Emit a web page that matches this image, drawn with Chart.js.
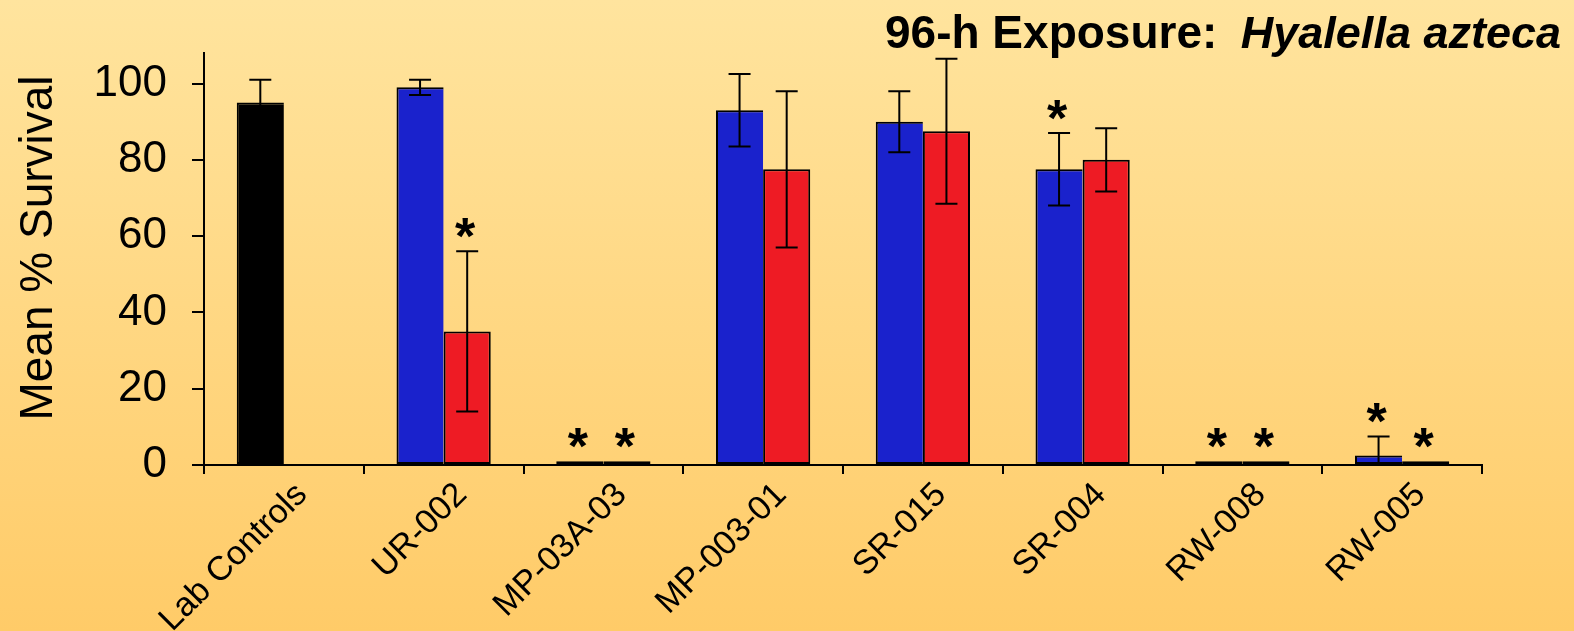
<!DOCTYPE html>
<html>
<head>
<meta charset="utf-8">
<script src="https://cdn.jsdelivr.net/npm/chart.js@4.4.1/dist/chart.umd.min.js"></script>
<style>
  html, body { margin: 0; padding: 0; width: 1574px; height: 631px; overflow: hidden; }
  body { background: linear-gradient(to bottom, #FFE49E 0%, #FFCB68 100%); }
  canvas { display: block; }
</style>
</head>
<body>
<canvas id="chart" width="1574" height="631"></canvas>
<script>
// Stations and mean % survival (first and second sample sets), with error half-widths
const stations = ['Lab Controls', 'UR-002', 'MP-03A-03', 'MP-003-01', 'SR-015', 'SR-004', 'RW-008', 'RW-005'];
const survivalA = [95, 99, 1, 93, 90, 77.5, 1, 2.5];
const errorA    = [6, 2, 0, 9.5, 8, 9.5, 0, 5];
const survivalB = [null, 35, 1, 77.5, 87.5, 80, 1, 1];
const errorB    = [null, 21, 0, 20.5, 19, 8.3, 0, 0];
// Stations significantly different from the controls (marked with *)
const significantA = [false, false, true, false, false, true, true, true];
const significantB = [false, true, true, false, false, false, true, true];
const yTickValues = [0, 20, 40, 60, 80, 100];

const BLUE = '#1A22CC';
const RED = '#EE1B24';
const FONT = "'Liberation Sans', Arial, Helvetica, sans-serif";

Chart.defaults.font.family = FONT;
Chart.defaults.color = '#000';

const CANVAS_H = 631;
const PLOT_LEFT = 204;
const PLOT_BOTTOM = 465;

// Error bars and significance asterisks, positioned through the y scale
const errorBarPlugin = {
  id: 'errorBars',
  afterDatasetsDraw(chart) {
    const { ctx } = chart;
    const y = chart.scales.y;
    const sets = [
      { values: survivalA, errors: errorA, sig: significantA },
      { values: survivalB, errors: errorB, sig: significantB }
    ];
    ctx.save();
    ctx.strokeStyle = '#000';
    ctx.lineWidth = 2;
    sets.forEach((s, d) => {
      const meta = chart.getDatasetMeta(d);
      meta.data.forEach((bar, i) => {
        const v = s.values[i];
        if (v == null) return;
        const e = s.errors[i] || 0;
        const x = bar.x;
        if (e > 0) {
          const lowVal = Math.max(0, v - e);
          const yHi = y.getPixelForValue(v + e);
          const yLo = y.getPixelForValue(lowVal);
          ctx.beginPath();
          ctx.moveTo(x, yHi); ctx.lineTo(x, yLo);
          ctx.moveTo(x - 11, yHi); ctx.lineTo(x + 11, yHi);
          if (v - e > 0) { ctx.moveTo(x - 11, yLo); ctx.lineTo(x + 11, yLo); }
          ctx.stroke();
        }
        if (s.sig[i]) {
          const top = y.getPixelForValue(v + e);
          ctx.font = 'bold 52px ' + FONT;
          ctx.textAlign = 'center';
          ctx.textBaseline = 'alphabetic';
          const m = ctx.measureText('*');
          const mid = (m.actualBoundingBoxAscent - m.actualBoundingBoxDescent) / 2;
          ctx.fillStyle = '#000';
          ctx.fillText('*', x - 2, top - 23 + mid);
        }
      });
    });
    ctx.restore();
  }
};

// Heading with the species name in italics, and the vertical axis caption
const textPlugin = {
  id: 'captions',
  afterDraw(chart) {
    const { ctx } = chart;
    ctx.save();
    ctx.fillStyle = '#000';
    ctx.textBaseline = 'alphabetic';
    ctx.textAlign = 'left';
    ctx.font = 'bold 46px ' + FONT;
    ctx.fillText('96-h Exposure:', 885, 48);
    ctx.textAlign = 'right';
    ctx.font = 'italic bold 45px ' + FONT;
    ctx.fillText('Hyalella azteca', 1561, 48);

    ctx.translate(52, 248);
    ctx.rotate(-Math.PI / 2);
    ctx.textAlign = 'center';
    ctx.font = '46px ' + FONT;
    ctx.fillText('Mean % Survival', 0, 0);
    ctx.restore();
  }
};

new Chart(document.getElementById('chart'), {
  type: 'bar',
  data: {
    labels: stations,
    datasets: [
      {
        data: survivalA,
        backgroundColor: survivalA.map((_, i) => i === 0 ? '#000' : BLUE),
        borderColor: '#000',
        borderWidth: 2,
        borderSkipped: 'right',
        categoryPercentage: 0.59,
        barPercentage: 1
      },
      {
        data: survivalB,
        backgroundColor: RED,
        borderColor: '#000',
        borderWidth: 2,
        borderSkipped: false,
        categoryPercentage: 0.59,
        barPercentage: 1
      }
    ]
  },
  options: {
    responsive: false,
    animation: false,
    devicePixelRatio: 1,
    layout: { padding: { top: 53, right: 92, left: 0, bottom: 0 } },
    plugins: {
      legend: { display: false },
      tooltip: { enabled: false }
    },
    scales: {
      x: {
        grid: { display: true, drawOnChartArea: false, drawTicks: true, tickLength: 9, color: '#000', lineWidth: 2, offset: true },
        border: { display: true, color: '#000', width: 2 },
        ticks: {
          autoSkip: false, minRotation: 45, maxRotation: 45, padding: 1, labelOffset: 18,
          font: { size: 34 }, color: '#000'
        },
        afterFit(scale) { scale.height = CANVAS_H - PLOT_BOTTOM; }
      },
      y: {
        min: 0,
        max: 108,
        afterBuildTicks(scale) { scale.ticks = yTickValues.map(v => ({ value: v })); },
        grid: { display: true, drawOnChartArea: false, drawTicks: true, tickLength: 12, color: '#000', lineWidth: 2 },
        border: { display: true, color: '#000', width: 2 },
        ticks: { padding: 25, font: { size: 44 }, color: '#000' },
        afterFit(scale) { scale.width = PLOT_LEFT; }
      }
    }
  },
  plugins: [errorBarPlugin, textPlugin]
});
</script>
</body>
</html>
